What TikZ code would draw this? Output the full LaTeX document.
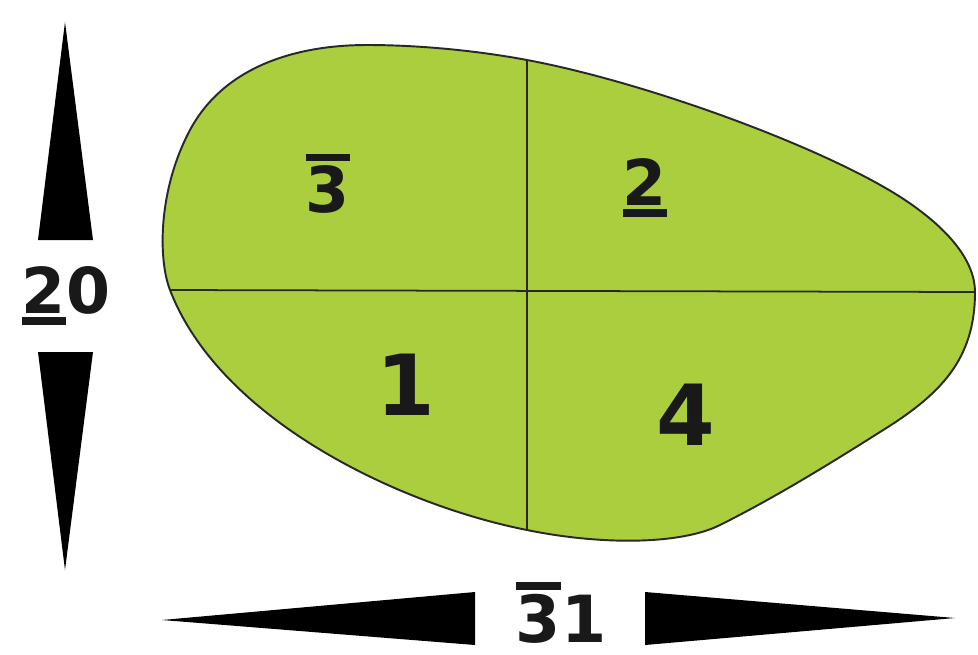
\documentclass[tikz,border=0pt]{standalone}
\usepackage{fontspec}
\setmainfont{DejaVu Sans}
\definecolor{greenfill}{RGB}{170,206,62}
\definecolor{inkline}{RGB}{40,40,40}
\newlength\barwd
% bar under / over a digit
\newcommand\ubar[1]{\settowidth\barwd{#1}\makebox[0pt][l]{\rule[-0.19em]{\barwd}{0.125em}}#1}
\newcommand\obar[1]{\settowidth\barwd{#1}\makebox[0pt][l]{\rule[0.80em]{\barwd}{0.125em}}#1}

\begin{document}
\begin{tikzpicture}[x=0.02cm, y=-0.02cm,
    num/.style={font=\bfseries\fontsize{36}{36}\selectfont, anchor=base, inner sep=0pt, text=black!90},
    bignum/.style={num, font=\bfseries\fontsize{48}{48}\selectfont}]
    \useasboundingbox (0,0) rectangle (978,654);

    % Quarter line ends
    \coordinate (vtop) at (527,60);
    \coordinate (vbot) at (527,530);
    \coordinate (hleft) at (170,290);
    \coordinate (hright) at (975,292);

    % Green outline
    \draw[inkline, line width=1.1pt, fill=greenfill]
        (hleft) .. controls (158,259) and (158,190) .. (190,130)
        .. controls (222,70) and (290,45) .. (367,45)
        .. controls (430,45) and (490,53) .. (vtop)
        .. controls (650,83) and (830,150) .. (905,200)
        .. controls (950,230) and (975,262) .. (hright)
        .. controls (975,360) and (940,395) .. (880,432)
        .. controls (820,470) and (770,500) .. (720,525)
        .. controls (680,545) and (600,545) .. (vbot)
        .. controls (400,505) and (220,420) .. (hleft) -- cycle;

    % Quarter lines
    \draw[inkline, line width=1pt] (vtop) -- (vbot);
    \draw[inkline, line width=1pt] (hleft) -- (hright);

    % Quarter numbers
    \node[num] (q3) at (328,212) {\obar{3}};
    \node[num] (q2) at (645,205) {\ubar{2}};
    \node[bignum] (q1) at (406,415) {1};
    \node[bignum] (q4) at (686,445) {4};

    % Depth arrow
    \node[num] (depth) at (66,313) {\ubar{2}0};
    \fill (65,22) -- (93,240) -- (38,240) -- cycle;
    \fill (38,352) -- (93,352) -- (65,570) -- cycle;

    % Width arrow
    \node[num, font=\bfseries\fontsize{37}{37}\selectfont] (width) at (561,642) {\obar{3}1};
    \fill (162,620) -- (475,592) -- (475,645) -- cycle;
    \fill (645,592) -- (955,618) -- (645,645) -- cycle;
\end{tikzpicture}
\end{document}
